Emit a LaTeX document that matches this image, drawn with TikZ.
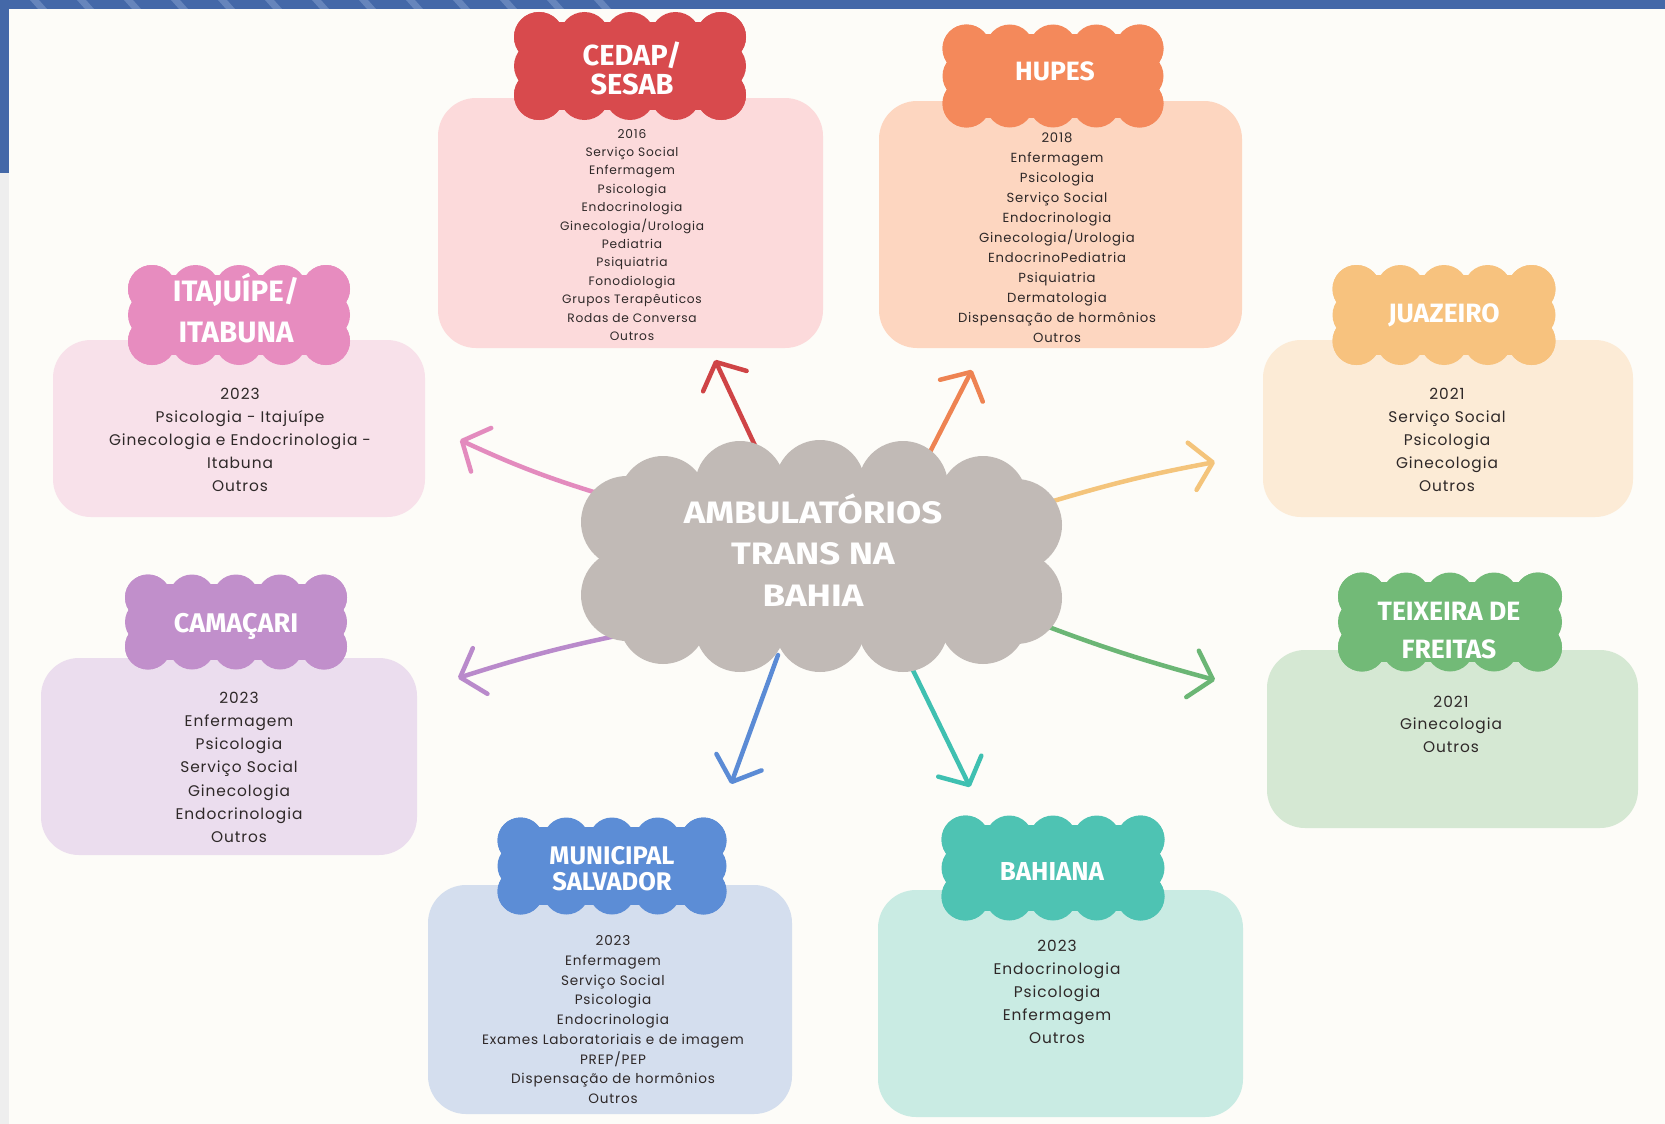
\documentclass[tikz,border=0pt]{standalone}
\usepackage{fontspec}
\usetikzlibrary{arrows.meta}
\newfontfamily\bodyfont{Poppins}[LetterSpace=6]
\newfontfamily\headfont{Fira Sans}
\newfontfamily\hubfont{Fira Sans}[FakeStretch=1.18]
\definecolor{bgc}{HTML}{FDFCF8}
\definecolor{barc}{HTML}{4468A8}
\definecolor{stripec}{HTML}{6685BC}
\definecolor{edgec}{HTML}{EEEEEE}
\definecolor{txtc}{HTML}{2E2828}
\definecolor{hubc}{HTML}{C1BAB6}
% boxes
\definecolor{cedapbg}{HTML}{FCDADB}
\definecolor{hupesbg}{HTML}{FDD6C0}
\definecolor{itajbg}{HTML}{F8E1EA}
\definecolor{camabg}{HTML}{EBDDEE}
\definecolor{munibg}{HTML}{D4DEEE}
\definecolor{bahibg}{HTML}{C9EBE3}
\definecolor{juazbg}{HTML}{FCEBD6}
\definecolor{teixbg}{HTML}{D5E8D3}
% clouds
\definecolor{cedapc}{HTML}{D84A4D}
\definecolor{hupesc}{HTML}{F4895B}
\definecolor{itajc}{HTML}{E78CBF}
\definecolor{camac}{HTML}{C18FCB}
\definecolor{munic}{HTML}{5C8DD6}
\definecolor{bahic}{HTML}{4EC3B3}
\definecolor{juazc}{HTML}{F7C27E}
\definecolor{teixc}{HTML}{72BA77}
% arrows
\definecolor{arrR}{HTML}{CF4446}
\definecolor{arrO}{HTML}{EE8352}
\definecolor{arrP}{HTML}{E38BBE}
\definecolor{arrV}{HTML}{B98ACB}
\definecolor{arrB}{HTML}{5B8BD5}
\definecolor{arrT}{HTML}{3FC0B1}
\definecolor{arrY}{HTML}{F4C47B}
\definecolor{arrG}{HTML}{6BB675}

% scalloped cloud: cx, cy, w, h, r, nx, ny, colour
\newcommand\cloudblob[8]{%
  \pgfmathsetmacro\cba{#3/2-#5}%
  \pgfmathsetmacro\cbb{#4/2-#5}%
  \pgfmathtruncatemacro\cbnx{#6-1}%
  \pgfmathtruncatemacro\cbny{#7-1}%
  \fill[#8] ({#1-\cba-0.6*#5},{#2-\cbb-0.6*#5}) rectangle ({#1+\cba+0.6*#5},{#2+\cbb+0.6*#5});%
  \foreach \ci in {0,...,\cbnx}{%
    \pgfmathsetmacro\cbx{#1-\cba+2*\cba*\ci/\cbnx}%
    \fill[#8] (\cbx,{#2-\cbb}) circle[radius=#5pt];
    \fill[#8] (\cbx,{#2+\cbb}) circle[radius=#5pt];}%
  \foreach \cj in {0,...,\cbny}{%
    \pgfmathsetmacro\cby{#2-\cbb+2*\cbb*\cj/\cbny}%
    \fill[#8] ({#1-\cba},\cby) circle[radius=#5pt];
    \fill[#8] ({#1+\cba},\cby) circle[radius=#5pt];}%
}

\begin{document}
\begin{tikzpicture}[x=1pt,y=-1pt,
  panel/.style={rectangle, rounded corners=38pt, inner sep=0pt, draw=none},
  bodytxt/.style={text=txtc, align=center, inner sep=0pt, anchor=north},
  bigbody/.style={bodytxt, font=\bodyfont\fontsize{15.4}{23}\selectfont},
  headtxt/.style={text=white, align=center, inner sep=0pt},
  arr/.style={line width=4.5pt, line cap=round, -{Straight Barb[length=21pt,width=48pt,round]}},
]
\useasboundingbox (0,0) rectangle (1665,1124);
% background and frame
\fill[bgc] (0,0) rectangle (1665,1124);
\fill[edgec] (0,173) rectangle (9,1124);
\fill[barc] (0,0) rectangle (1665,9);
\fill[barc] (0,0) rectangle (9,173);
\foreach \sx in {30,77,...,640} \fill[stripec] (\sx,0) -- (\sx+9,0) -- (\sx+17,9) -- (\sx+8,9) -- cycle;

% arrow end points
\coordinate (sR) at (758,452);  \coordinate (tR) at (715,360);
\coordinate (sO) at (930,452);  \coordinate (tO) at (972,370);
\coordinate (sP) at (610,497);  \coordinate (tP) at (460,440);
\coordinate (sV) at (630,633);  \coordinate (tV) at (458,678);
\coordinate (sB) at (778,655);  \coordinate (tB) at (731,784);
\coordinate (sT) at (908,660);  \coordinate (tT) at (970,787);
\coordinate (sY) at (1050,502); \coordinate (tY) at (1215,462);
\coordinate (sG) at (1020,616); \coordinate (tG) at (1215,680);
\draw[arr, arrR] (sR) -- (tR);
\draw[arr, arrO] (sO) -- (tO);
\draw[arr, arrP] (sP) to[bend left=4] (tP);
\draw[arr, arrV] (sV) to[bend right=3] (tV);
\draw[arr, arrB] (sB) -- (tB);
\draw[arr, arrT] (sT) -- (tT);
\draw[arr, arrY] (sY) to[bend left=3] (tY);
\draw[arr, arrG] (sG) to[bend right=3] (tG);

% central cloud
\fill[hubc] (640,485) rectangle (1002,630);
\foreach \px/\py/\pr in {663/500/44, 740/486/45, 820/485/45, 903/486/45, 983/500/44,
                         663/620/44, 740/627/45, 820/627/45, 903/627/45, 983/620/44,
                         627/522/46, 627/595/46, 1016/525/46, 1016/598/46}
  \fill[hubc] (\px,\py) circle[radius=\pr pt];
\node[headtxt, font=\hubfont\bfseries\fontsize{31}{41.5}\selectfont] (hub) at (813,550) {AMBULATÓRIOS\\TRANS NA\\BAHIA};

% ---------- CEDAP / SESAB ----------
\node[panel, fill=cedapbg, minimum width=385pt, minimum height=250pt] (cedapbox) at (630.5,223) {};
\cloudblob{630}{66}{232}{108}{25}{5}{3}{cedapc}
\node[headtxt, font=\headfont\bfseries\fontsize{29}{29}\selectfont] (cedaph) at (632,68.5) {CEDAP/\\SESAB};
\node[bodytxt, font=\bodyfont\fontsize{12.2}{18.4}\selectfont] (cedapt) at (632,128.8)
 {2016\\Serviço Social\\Enfermagem\\Psicologia\\Endocrinologia\\Ginecologia/Urologia\\Pediatria\\Psiquiatria\\Fonodiologia\\Grupos Terapêuticos\\Rodas de Conversa\\Outros};

% ---------- HUPES ----------
\node[panel, fill=hupesbg, minimum width=363pt, minimum height=247pt] (hupesbox) at (1060.5,224.5) {};
\cloudblob{1053}{76}{221}{103}{24}{5}{3}{hupesc}
\node[headtxt, anchor=base, font=\headfont\bfseries\fontsize{26.5}{30}\selectfont] (hupesh) at (1055,80.2) {HUPES};
\node[bodytxt, font=\bodyfont\fontsize{13.2}{20}\selectfont] (hupest) at (1057,132.5)
 {2018\\Enfermagem\\Psicologia\\Serviço Social\\Endocrinologia\\Ginecologia/Urologia\\EndocrinoPediatria\\Psiquiatria\\Dermatologia\\Dispensação de hormônios\\Outros};

% ---------- ITAJUIPE / ITABUNA ----------
\node[panel, fill=itajbg, minimum width=372pt, minimum height=177pt] (itajbox) at (239,428.5) {};
\cloudblob{239}{315}{222}{100}{24}{5}{3}{itajc}
\node[headtxt, font=\headfont\bfseries\fontsize{29.5}{41}\selectfont] (itajh) at (236,308) {ITAJUÍPE/\\ITABUNA};
\node[bigbody] (itajt) at (240,387.5)
 {2023\\Psicologia - Itajuípe\\Ginecologia e Endocrinologia -\\Itabuna\\Outros};

% ---------- CAMACARI ----------
\node[panel, fill=camabg, minimum width=376pt, minimum height=197pt] (camabox) at (229,756.5) {};
\cloudblob{236}{622}{222}{95}{23}{5}{3}{camac}
\node[headtxt, anchor=base, font=\headfont\bfseries\fontsize{27}{30}\selectfont] (camah) at (236,632.5) {CAMAÇARI};
\node[bodytxt, font=\bodyfont\fontsize{15.4}{23.3}\selectfont] (camat) at (239,691.5)
 {2023\\Enfermagem\\Psicologia\\Serviço Social\\Ginecologia\\Endocrinologia\\Outros};

% ---------- MUNICIPAL SALVADOR ----------
\node[panel, fill=munibg, minimum width=364pt, minimum height=229pt] (munibox) at (610,999.5) {};
\cloudblob{612}{866}{229}{97}{23}{5}{3}{munic}
\node[headtxt, font=\headfont\bfseries\fontsize{25.5}{26}\selectfont] (munih) at (612,869) {MUNICIPAL\\SALVADOR};
\node[bodytxt, font=\bodyfont\fontsize{13.6}{19.75}\selectfont] (munit) at (613,935.3)
 {2023\\Enfermagem\\Serviço Social\\Psicologia\\Endocrinologia\\Exames Laboratoriais e de imagem\\PREP/PEP\\Dispensação de hormônios\\Outros};

% ---------- BAHIANA ----------
\node[panel, fill=bahibg, minimum width=365pt, minimum height=227pt] (bahibox) at (1060.5,1003.5) {};
\cloudblob{1053}{868}{223}{105}{24}{5}{3}{bahic}
\node[headtxt, anchor=base, font=\headfont\bfseries\fontsize{26}{30}\selectfont] (bahih) at (1052,880) {BAHIANA};
\node[bigbody] (bahit) at (1057,939.5)
 {2023\\Endocrinologia\\Psicologia\\Enfermagem\\Outros};

% ---------- JUAZEIRO ----------
\node[panel, fill=juazbg, minimum width=370pt, minimum height=177pt] (juazbox) at (1448,428.5) {};
\cloudblob{1444}{315}{223}{100}{24}{5}{3}{juazc}
\node[headtxt, anchor=base, font=\headfont\bfseries\fontsize{26.5}{30}\selectfont] (juazh) at (1444,322.2) {JUAZEIRO};
\node[bigbody] (juazt) at (1447,387.5)
 {2021\\Serviço Social\\Psicologia\\Ginecologia\\Outros};

% ---------- TEIXEIRA DE FREITAS ----------
\node[panel, fill=teixbg, minimum width=371pt, minimum height=178pt] (teixbox) at (1452.5,739) {};
\cloudblob{1450}{622}{224}{99}{24}{5}{3}{teixc}
\node[headtxt, font=\headfont\bfseries\fontsize{26.5}{38}\selectfont] (teixh) at (1449,631) {TEIXEIRA DE\\FREITAS};
\node[bodytxt, font=\bodyfont\fontsize{15.4}{22.5}\selectfont] (teixt) at (1451,695.5)
 {2021\\Ginecologia\\Outros};
\end{tikzpicture}
\end{document}
